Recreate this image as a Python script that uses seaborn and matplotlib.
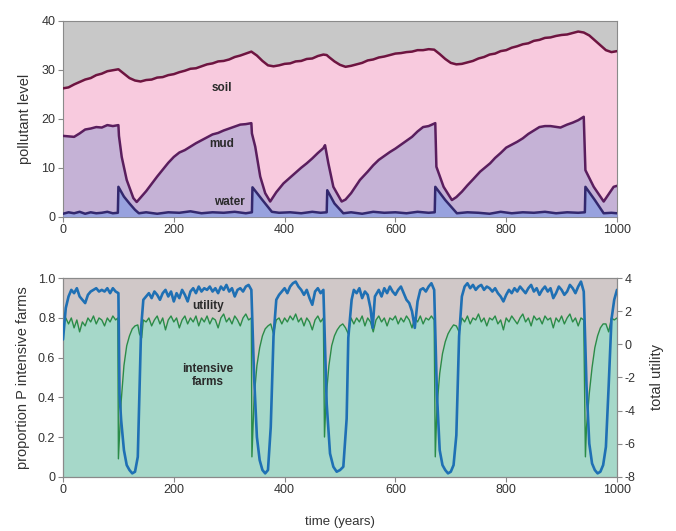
import numpy as np
import pandas as pd
import matplotlib
matplotlib.use("Agg")
import matplotlib.pyplot as plt
import seaborn as sns

# ---------------- data: top panel (pollutant level) ----------------
soil_t = [0, 10, 20, 30, 40, 50, 60, 70, 80, 90, 100, 110, 120, 130, 140, 150, 160, 170, 180,
          190, 200, 210, 220, 230, 240, 250, 260, 270, 280, 290, 300, 310, 320, 330, 340, 350,
          360, 370, 380, 390, 400, 410, 420, 430, 440, 450, 460, 470, 476, 480, 490, 500, 510,
          520, 530, 540, 550, 560, 570, 580, 590, 600, 610, 620, 630, 640, 650, 660, 670, 680,
          690, 700, 710, 720, 730, 740, 750, 760, 770, 780, 790, 800, 810, 820, 830, 840, 850,
          860, 870, 880, 890, 900, 910, 920, 930, 940, 950, 960, 970, 980, 990, 1000]
soil = [26.2, 26.4, 27.0, 27.5, 28.0, 28.3, 28.9, 29.2, 29.7, 29.9, 30.1, 29.2, 28.3, 27.8, 27.6,
        27.9, 28.0, 28.4, 28.5, 28.9, 29.1, 29.5, 29.8, 30.2, 30.3, 30.7, 31.1, 31.3, 31.7, 31.8,
        32.1, 32.6, 32.9, 33.3, 33.7, 32.9, 31.8, 30.9, 30.7, 30.9, 31.2, 31.3, 31.7, 31.8, 32.2,
        32.3, 32.8, 33.1, 33.0, 32.6, 31.7, 31.0, 30.6, 30.8, 31.1, 31.4, 31.9, 32.1, 32.5, 32.7,
        33.0, 33.3, 33.4, 33.6, 33.7, 34.0, 34.0, 34.2, 34.1, 33.2, 32.2, 31.4, 31.1, 31.2, 31.5,
        31.8, 32.3, 32.6, 33.1, 33.3, 33.8, 34.0, 34.5, 34.8, 35.2, 35.4, 35.9, 36.1, 36.5, 36.6,
        36.9, 37.1, 37.2, 37.5, 37.8, 37.6, 37.0, 36.0, 35.0, 34.0, 33.6, 33.8]

mud_t = [0, 10, 20, 30, 40, 50, 60, 70, 80, 90, 100, 101, 106, 115, 127, 133, 140, 150, 160, 170,
         180, 190, 200, 210, 220, 230, 240, 250, 260, 270, 280, 290, 300, 310, 320, 330, 340, 341,
         347, 356, 365, 374, 385, 398, 410, 420, 430, 440, 450, 460, 470, 473, 479, 488, 503, 510,
         520, 536, 550, 560, 570, 580, 590, 600, 610, 620, 630, 640, 650, 660, 672, 674, 687, 702,
         710, 720, 730, 740, 753, 771, 780, 790, 800, 810, 820, 830, 840, 850, 860, 870, 880, 898,
         910, 920, 930, 940, 943, 958, 976, 994, 1000]
mud = [16.5, 16.4, 16.3, 17.0, 17.8, 18.0, 18.3, 18.2, 18.7, 18.5, 18.7, 16.5, 12.2, 7.5, 3.8, 3.0,
       3.9, 5.2, 6.7, 8.2, 9.6, 11.0, 12.2, 13.1, 13.6, 14.3, 15.0, 15.6, 16.2, 16.8, 17.1, 17.6,
       18.0, 18.4, 18.8, 18.9, 19.1, 17.0, 14.3, 8.2, 4.8, 3.1, 5.0, 6.8, 8.0, 9.0, 10.0, 10.9,
       11.9, 13.0, 14.0, 14.6, 10.9, 6.1, 3.1, 3.5, 4.8, 7.5, 9.2, 10.5, 11.6, 12.4, 13.2, 13.9,
       14.7, 15.5, 16.3, 17.4, 18.3, 18.5, 19.1, 10.2, 6.1, 3.4, 4.0, 5.1, 6.4, 7.6, 9.2, 10.9,
       12.0, 13.0, 14.1, 14.7, 15.3, 16.0, 16.9, 17.6, 18.3, 18.5, 18.5, 18.2, 18.8, 19.2, 19.7,
       20.4, 9.5, 6.1, 3.1, 6.1, 6.3]

water_t = [0, 10, 20, 30, 40, 50, 60, 70, 80, 90, 99, 100, 110, 120, 130, 137, 150, 170, 190, 210,
           230, 250, 270, 290, 310, 330, 341, 342, 360, 377, 390, 410, 430, 450, 465, 476, 477,
           490, 506, 520, 540, 560, 580, 600, 620, 640, 660, 671, 672, 690, 711, 730, 750, 770,
           790, 810, 830, 850, 870, 890, 910, 930, 942, 943, 960, 976, 990, 1000]
water = [0.6, 0.9, 0.7, 1.0, 0.6, 0.9, 0.7, 0.8, 1.0, 0.7, 0.8, 6.1, 4.1, 2.7, 1.4, 0.7, 0.9, 0.6,
         0.9, 0.8, 1.1, 0.7, 0.9, 0.8, 1.0, 0.7, 0.9, 6.0, 3.4, 1.0, 0.8, 0.9, 0.7, 1.0, 0.8, 0.9,
         5.4, 2.7, 0.7, 0.9, 0.6, 1.0, 0.8, 0.9, 0.7, 1.0, 0.8, 0.9, 6.1, 3.4, 0.7, 0.9, 0.8, 0.6,
         1.0, 0.7, 0.9, 0.8, 1.0, 0.7, 0.9, 0.8, 0.9, 6.1, 3.4, 0.7, 0.8, 0.7]

# ---------------- data: bottom panel ----------------
util_t = [0, 5, 10, 15, 20, 25, 30, 35, 40, 45, 50, 55, 60, 65, 70, 75, 80, 85, 90, 95, 100,
          102, 105, 110, 115, 120, 125, 130, 135, 138, 141, 145, 150, 155, 160, 165, 170, 175,
          180, 185, 190, 195, 200, 205, 210, 215, 220, 225, 230, 235, 240, 245, 250, 255, 260,
          265, 270, 275, 280, 285, 290, 295, 300, 305, 310, 315, 320, 325, 330, 335, 340, 345,
          350, 355, 360, 365, 370, 375, 380, 385, 390, 395, 400, 405, 410, 415, 420, 425, 430,
          435, 440, 445, 450, 455, 460, 465, 470, 476, 482, 488, 494, 500, 506, 512, 515, 521,
          525, 530, 535, 540, 545, 550, 555, 559, 563, 570, 575, 580, 585, 590, 595, 600, 605,
          610, 615, 620, 625, 630, 635, 640, 645, 650, 655, 660, 665, 670, 675, 680, 685, 690,
          695, 700, 705, 710, 715, 720, 725, 730, 735, 740, 745, 750, 755, 760, 765, 770, 775,
          780, 785, 790, 795, 800, 805, 810, 815, 820, 825, 830, 835, 840, 845, 850, 855, 860,
          865, 870, 875, 880, 885, 890, 895, 900, 905, 910, 915, 920, 925, 930, 935, 940, 945,
          950, 955, 960, 965, 970, 975, 980, 985, 990, 995, 1000]
utility = [0.3, 2.2, 2.9, 3.3, 3.1, 3.4, 2.9, 2.7, 2.5, 3.0, 3.2, 3.3, 3.4, 3.2, 3.3, 3.2, 3.4,
           3.1, 3.4, 3.2, 3.1, -3.0, -4.6, -6.4, -7.3, -7.6, -7.8, -7.7, -6.8, -3.0, 1.0, 2.7,
           2.9, 3.1, 2.8, 3.2, 3.0, 2.7, 3.1, 3.3, 2.9, 3.2, 2.6, 3.1, 2.8, 3.3, 3.0, 2.6, 3.2,
           3.4, 3.1, 3.5, 3.2, 3.4, 3.3, 3.5, 3.2, 3.4, 3.1, 3.5, 3.3, 3.6, 3.2, 3.4, 2.9, 3.3,
           3.4, 3.2, 3.5, 3.6, 3.3, -2.0, -5.6, -7.0, -7.6, -7.8, -7.6, -5.0, 0.5, 2.7, 3.0, 3.2,
           3.4, 3.1, 3.5, 3.7, 3.8, 3.5, 3.3, 3.0, 3.3, 2.8, 2.4, 3.2, 3.4, 3.1, 3.3, -3.6, -6.6,
           -7.4, -7.7, -7.6, -7.4, -4.5, 0.4, 2.7, 3.3, 3.1, 3.4, 2.8, 3.2, 3.0, 2.2, 1.0, 2.9,
           3.3, 2.9, 3.4, 3.1, 3.5, 3.2, 3.0, 3.3, 3.5, 3.1, 2.7, 2.5, 2.0, 1.0, 2.6, 3.3, 3.4,
           3.2, 3.5, 3.7, 3.3, -3.0, -6.4, -7.3, -7.6, -7.8, -7.7, -7.3, -5.5, 0.5, 2.9, 3.5, 3.7,
           3.4, 3.6, 3.3, 3.5, 3.6, 3.3, 3.5, 3.4, 3.2, 3.4, 3.1, 2.9, 2.6, 3.0, 3.3, 3.1, 3.4,
           3.2, 3.5, 3.3, 3.1, 3.4, 3.6, 3.2, 3.4, 3.0, 3.3, 3.5, 3.2, 3.4, 2.8, 3.1, 3.5, 3.3,
           3.0, 3.2, 3.6, 3.4, 3.1, 3.5, 3.8, 3.2, -2.5, -6.0, -7.2, -7.6, -7.8, -7.7, -7.3, -6.2,
           -2.5, 1.5, 2.7, 3.3]

prop_t = [0, 5, 10, 15, 20, 25, 30, 35, 40, 45, 50, 55, 60, 65, 70, 75, 80, 85, 90, 95, 99,
          100, 105, 110, 115, 120, 125, 130, 135, 138, 142, 145, 150, 155, 160, 165, 170, 175,
          180, 185, 190, 195, 200, 205, 210, 215, 220, 225, 230, 235, 240, 245, 250, 255, 260,
          265, 270, 275, 280, 285, 290, 295, 300, 305, 310, 315, 320, 325, 330, 335, 340, 341,
          345, 350, 355, 360, 365, 370, 375, 380, 385, 390, 395, 400, 405, 410, 415, 420, 425,
          430, 435, 440, 445, 450, 455, 460, 465, 470, 472, 475, 480, 485, 490, 495, 500, 505,
          510, 515, 520, 525, 530, 535, 540, 545, 550, 555, 560, 565, 570, 575, 580, 585, 590,
          595, 600, 605, 610, 615, 620, 625, 630, 635, 640, 645, 650, 655, 660, 665, 670, 672,
          675, 680, 685, 690, 695, 700, 705, 710, 715, 720, 725, 730, 735, 740, 745, 750, 755,
          760, 765, 770, 775, 780, 785, 790, 795, 800, 805, 810, 815, 820, 825, 830, 835, 840,
          845, 850, 855, 860, 865, 870, 875, 880, 885, 890, 895, 900, 905, 910, 915, 920, 925,
          930, 935, 940, 943, 945, 950, 955, 960, 965, 970, 975, 980, 985, 990, 995, 1000]
proportion = [0.78, 0.80, 0.77, 0.80, 0.75, 0.79, 0.73, 0.78, 0.76, 0.80, 0.78, 0.81, 0.77, 0.80,
              0.79, 0.76, 0.80, 0.78, 0.81, 0.79, 0.80, 0.09, 0.38, 0.56, 0.66, 0.71, 0.745,
              0.76, 0.765, 0.72, 0.70, 0.79, 0.78, 0.80, 0.76, 0.79, 0.81, 0.77, 0.80, 0.74,
              0.79, 0.81, 0.78, 0.80, 0.75, 0.79, 0.81, 0.77, 0.80, 0.78, 0.81, 0.76, 0.80, 0.78,
              0.81, 0.77, 0.80, 0.79, 0.75, 0.80, 0.82, 0.78, 0.80, 0.77, 0.81, 0.79, 0.76, 0.80,
              0.82, 0.79, 0.80, 0.10, 0.40, 0.56, 0.65, 0.71, 0.745, 0.76, 0.77, 0.72, 0.79,
              0.80, 0.77, 0.80, 0.78, 0.81, 0.79, 0.82, 0.78, 0.80, 0.76, 0.80, 0.78, 0.74, 0.79,
              0.81, 0.78, 0.80, 0.20, 0.40, 0.56, 0.66, 0.71, 0.74, 0.76, 0.77, 0.75, 0.72,
              0.80, 0.77, 0.80, 0.78, 0.81, 0.76, 0.80, 0.78, 0.73, 0.79, 0.81, 0.78, 0.80, 0.76,
              0.80, 0.79, 0.81, 0.77, 0.80, 0.78, 0.81, 0.79, 0.75, 0.80, 0.78, 0.81, 0.77, 0.80,
              0.79, 0.81, 0.79, 0.10, 0.35, 0.52, 0.62, 0.68, 0.72, 0.745, 0.765, 0.76, 0.73,
              0.80, 0.78, 0.81, 0.77, 0.80, 0.79, 0.82, 0.78, 0.80, 0.76, 0.80, 0.79, 0.81, 0.77,
              0.79, 0.74, 0.80, 0.78, 0.81, 0.79, 0.77, 0.80, 0.82, 0.78, 0.80, 0.76, 0.81, 0.79,
              0.80, 0.77, 0.81, 0.79, 0.80, 0.75, 0.80, 0.78, 0.81, 0.77, 0.80, 0.82, 0.78, 0.80,
              0.76, 0.80, 0.79, 0.10, 0.25, 0.42, 0.55, 0.65, 0.71, 0.75, 0.77, 0.77, 0.73, 0.80,
              0.79, 0.80]

x_ticks = [0, 200, 400, 600, 800, 1000]
top_yticks = [0, 10, 20, 30, 40]
prop_ticks = [0, 0.2, 0.4, 0.6, 0.8, 1.0]
prop_ticklabels = ["0", "0.2", "0.4", "0.6", "0.8", "1.0"]
util_ticks = [-8, -6, -4, -2, 0, 2, 4]

# ---------------- styling ----------------
sns.set_style("ticks")
plt.rcParams["font.family"] = ["Liberation Sans", "DejaVu Sans"]
plt.rcParams["axes.unicode_minus"] = False
TXT = "#333333"
SPINE = "#8a8a8a"
TICK_FS = 9
LABEL_FS = 10.5
NOTE_FS = 8.5

fig = plt.figure(figsize=(6.76, 5.31), dpi=100)
ax1 = fig.add_axes([0.0932, 0.5919, 0.8195, 0.3690])
ax2 = fig.add_axes([0.0932, 0.1023, 0.8195, 0.3736])

def style(ax):
    for s in ax.spines.values():
        s.set_color(SPINE)
        s.set_linewidth(0.8)
    ax.tick_params(axis="both", direction="out", length=3.5, width=0.8, color=SPINE,
                   labelsize=TICK_FS, labelcolor=TXT, pad=2)

# ---- top panel ----
ax1.set_facecolor("#c8c8c8")
ax1.fill_between(soil_t, 0, soil, color="#f8cade", lw=0, zorder=1)
ax1.fill_between(mud_t, 0, mud, color="#c5b2d6", lw=0, zorder=2)
ax1.fill_between(water_t, 0, water, color="#98a2de", lw=0, zorder=3)
sns.lineplot(x=soil_t, y=soil, ax=ax1, color="#6e1440", lw=1.8, zorder=4, estimator=None, sort=False)
sns.lineplot(x=mud_t, y=mud, ax=ax1, color="#5a1e5e", lw=1.8, zorder=5, estimator=None, sort=False)
sns.lineplot(x=water_t, y=water, ax=ax1, color="#33286e", lw=1.8, zorder=6, estimator=None, sort=False)
ax1.set_xlim(0, 1000)
ax1.set_ylim(0, 40)
ax1.set_xticks(x_ticks)
ax1.set_yticks(top_yticks)
ax1.set_ylabel("pollutant level", fontsize=LABEL_FS, color=TXT, labelpad=7)
ax1.set_xlabel("")
style(ax1)
ax1.text(287, 26.3, "soil", ha="center", va="center", fontsize=NOTE_FS, fontweight="bold", color="#2a2a2a", zorder=8)
ax1.text(287, 14.9, "mud", ha="center", va="center", fontsize=NOTE_FS, fontweight="bold", color="#2a2a2a", zorder=8)
ax1.text(300, 2.9, "water", ha="center", va="center", fontsize=NOTE_FS, fontweight="bold", color="#2a2a2a", zorder=8)

# ---- bottom panel ----
ax2.set_facecolor("#d0c8c8")
ax2.fill_between(prop_t, 0, proportion, color="#a6d8c9", lw=0, zorder=1)
sns.lineplot(x=prop_t, y=proportion, ax=ax2, color="#2a8c48", lw=1.0, zorder=3, estimator=None, sort=False)
ax2.set_xlim(0, 1000)
ax2.set_ylim(0, 1.0)
ax2.set_xticks(x_ticks)
ax2.set_yticks(prop_ticks)
ax2.set_yticklabels(prop_ticklabels)
ax2.set_ylabel("proportion P intensive farms", fontsize=LABEL_FS, color=TXT, labelpad=6)
ax2.set_xlabel("time (years)", fontsize=9.5, color=TXT, labelpad=14)
style(ax2)

ax3 = ax2.twinx()
sns.lineplot(x=util_t, y=utility, ax=ax3, color="#1f70b4", lw=1.9, zorder=4, estimator=None, sort=False)
ax3.set_ylim(-8, 4)
ax3.set_yticks(util_ticks)
ax3.set_ylabel("total utility", fontsize=LABEL_FS, color=TXT, labelpad=10)
style(ax3)
ax3.text(262, 2.3, "utility", ha="center", va="center", fontsize=NOTE_FS, fontweight="bold", color="#2a2a2a", zorder=8)
ax3.text(262, -1.9, "intensive\nfarms", ha="center", va="center", fontsize=NOTE_FS, fontweight="bold",
         color="#2a2a2a", linespacing=1.1, zorder=8)

fig.savefig("out.png", dpi=100)
